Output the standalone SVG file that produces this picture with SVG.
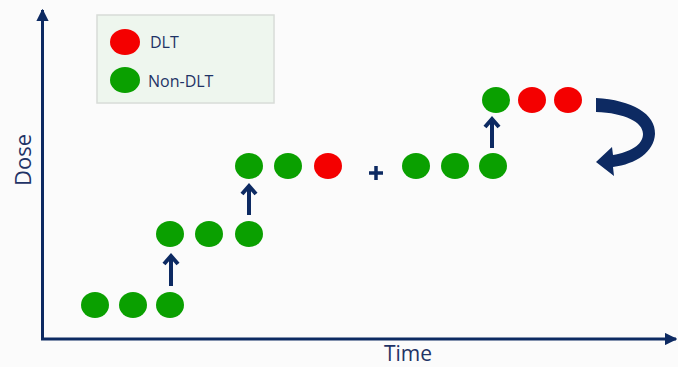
<svg xmlns="http://www.w3.org/2000/svg" width="678" height="367" viewBox="0 0 678 367">
<defs>
<style>
.g{fill:#0aa000}
.r{fill:#f40000}
.ax{stroke:#0d2a62;stroke-width:3;fill:none}
.up{stroke:#0d2a62;stroke-width:4;fill:none}
.uh{stroke:#0d2a62;stroke-width:4;fill:none;stroke-linejoin:miter}
.lbl{font-family:"Open Sans","DejaVu Sans",sans-serif;fill:#1f3366}
</style>
<marker id="ah" viewBox="0 0 10 10" refX="9" refY="5" markerWidth="4.2" markerHeight="4.2" orient="auto" markerUnits="strokeWidth">
<path d="M0,0 L10,5 L0,10 z" fill="#0d2a62"/>
</marker>
</defs>
<rect width="678" height="367" fill="#fbfbfb"/>
<g id="axes" class="ax">
<line x1="42.5" y1="339" x2="42.5" y2="10" marker-end="url(#ah)"/>
<line x1="41" y1="339" x2="676" y2="339" marker-end="url(#ah)"/>
</g>
<text class="lbl" x="0" y="0" font-size="22" text-anchor="middle" transform="translate(31,160) rotate(-90)">Dose</text>
<text class="lbl" x="408" y="361" font-size="21" text-anchor="middle">Time</text>
<g id="legend">
<rect x="97" y="15" width="177" height="88" fill="#eef6ee" stroke="#d8dcd8" stroke-width="1.5"/>
<ellipse class="r" cx="125" cy="42" rx="15" ry="13"/>
<ellipse class="g" cx="125" cy="80" rx="15" ry="13"/>
<text class="lbl" x="150" y="48" font-size="16">DLT</text>
<text class="lbl" x="148" y="87" font-size="16">Non-DLT</text>
</g>
<g id="connectors">
<line class="up" x1="171" y1="286" x2="171" y2="256"/>
<path class="uh" d="M164,264 L171,256 L178,264"/>
<line class="up" x1="249" y1="215" x2="249" y2="186"/>
<path class="uh" d="M242,194 L249,186 L256,194"/>
<line class="up" x1="492" y1="148" x2="492" y2="119"/>
<path class="uh" d="M485,127 L492,119 L499,127"/>
<path d="M596,98 C632,100 656,114 655,134 C654,152 636,164 613,167 L614,176 L596,162 L612,147 L613,155 C630,152 643,145 643,134 C643,122 625,113 596,112 Z" fill="#0d2a62"/>
</g>
<g id="cohort1">
<ellipse class="g" cx="95" cy="305" rx="14" ry="13"/>
<ellipse class="g" cx="133" cy="305" rx="14" ry="13"/>
<ellipse class="g" cx="170" cy="305" rx="14" ry="13"/>
</g>
<g id="cohort2">
<ellipse class="g" cx="170" cy="234" rx="14" ry="13"/>
<ellipse class="g" cx="209" cy="234" rx="14" ry="13"/>
<ellipse class="g" cx="249" cy="234" rx="14" ry="13"/>
</g>
<g id="cohort3">
<ellipse class="g" cx="249" cy="166" rx="14" ry="13"/>
<ellipse class="g" cx="288" cy="166" rx="14" ry="13"/>
<ellipse class="r" cx="328" cy="166" rx="14" ry="13"/>
</g>
<g id="plus">
<path d="M369,173 H383 M376,166 V180" stroke="#0d2a62" stroke-width="3.5"/>
</g>
<g id="cohort3b">
<ellipse class="g" cx="416" cy="166" rx="14" ry="13"/>
<ellipse class="g" cx="455" cy="166" rx="14" ry="13"/>
<ellipse class="g" cx="493" cy="166" rx="14" ry="13"/>
</g>
<g id="cohort4">
<ellipse class="g" cx="496" cy="100" rx="14" ry="13"/>
<ellipse class="r" cx="532" cy="100" rx="14" ry="13"/>
<ellipse class="r" cx="568" cy="100" rx="14" ry="13"/>
</g>
</svg>
